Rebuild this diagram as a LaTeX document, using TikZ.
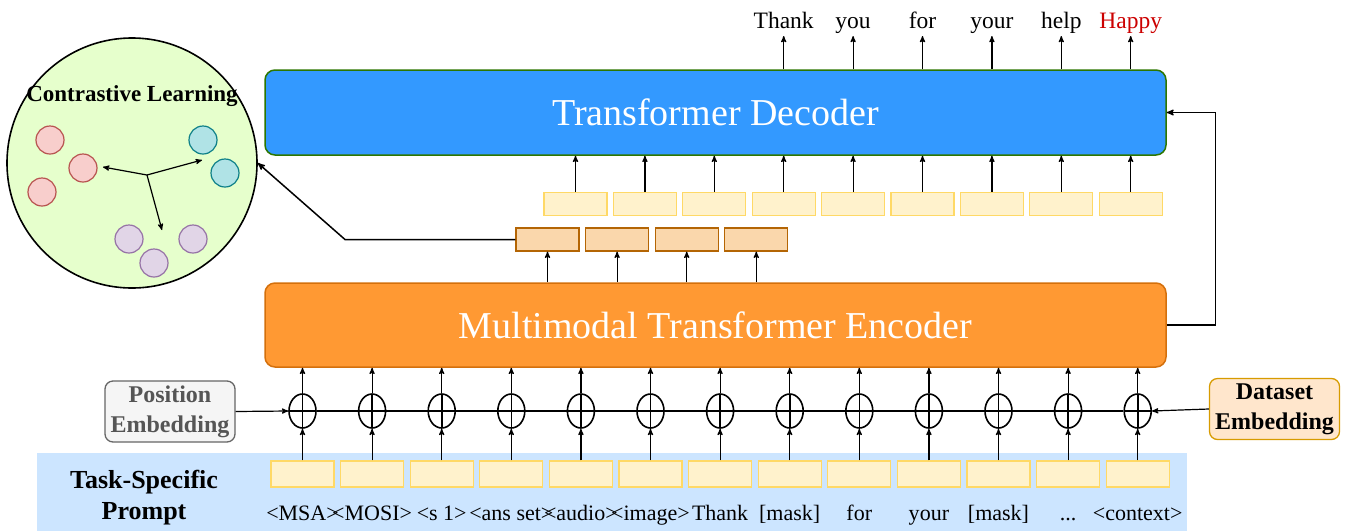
\documentclass[tikz,border=0pt]{standalone}
\usepackage{fontspec}
\setmainfont{Liberation Serif}
\usetikzlibrary{shapes.geometric}
\usetikzlibrary{shapes,arrows}
\definecolor{decfill}{HTML}{3399FF}
\definecolor{decline}{HTML}{2D7600}
\definecolor{encfill}{HTML}{FF9933}
\definecolor{encline}{HTML}{D4700C}
\definecolor{embfill}{HTML}{FFF2CC}
\definecolor{embline}{HTML}{FFD966}
\definecolor{outfill}{HTML}{FAD7AC}
\definecolor{outline}{HTML}{B46504}
\definecolor{clfill}{HTML}{E6FFCC}
\definecolor{bandfill}{HTML}{CCE5FF}
\definecolor{redfill}{HTML}{F8CECC}
\definecolor{redline}{HTML}{B85450}
\definecolor{tealfill}{HTML}{B0E3E6}
\definecolor{tealline}{HTML}{0E8088}
\definecolor{purpfill}{HTML}{E1D5E7}
\definecolor{purpline}{HTML}{9673A6}
\definecolor{posfill}{HTML}{F5F5F5}
\definecolor{posline}{HTML}{666666}
\definecolor{postext}{HTML}{555555}
\definecolor{datafill}{HTML}{FFE6CC}
\definecolor{dataline}{HTML}{D79B00}
\definecolor{happyred}{HTML}{CC0000}
\newcommand{\tokdots}{...}
\begin{document}
\begin{tikzpicture}[x=1pt,y=-1pt,>=stealth',line width=1.2pt,
  bigbox/.style={draw, rounded corners=10pt, line width=1.5pt, minimum width=901pt,
    minimum height=85pt, text=white, font=\fontsize{38}{44}\selectfont},
  emb/.style={draw=embline, fill=embfill, line width=1.3pt, minimum width=63pt,
    minimum height=23pt, inner sep=0pt},
  outemb/.style={draw=outline, fill=outfill, line width=1.3pt, minimum width=63pt,
    minimum height=23pt, inner sep=0pt},
  addop/.style={ellipse, draw, line width=1.6pt, minimum width=27pt, minimum height=34pt,
    inner sep=0pt, path picture={\draw[line width=1.6pt]
      (path picture bounding box.north) -- (path picture bounding box.south)
      (path picture bounding box.west) -- (path picture bounding box.east);}},
  ball/.style={circle, draw, line width=1.2pt, minimum size=28pt, inner sep=0pt},
  word/.style={anchor=base, font=\fontsize{23.5}{27}\selectfont},
  toktext/.style={anchor=base, font=\fontsize{22}{25}\selectfont},
  embbox/.style={draw, rounded corners=8pt, line width=1.3pt, minimum width=130pt,
    minimum height=61pt, align=center, inner sep=0pt, font=\bfseries\fontsize{24}{30}\selectfont}]
\useasboundingbox (0,0) rectangle (1346,531);

\fill[bandfill] (37,453) rectangle (1187,531);
\node[align=center, font=\bfseries\fontsize{26}{31}\selectfont] (prompt) at (144,498) {Task-Specific\\Prompt};

\node[bigbox, draw=decline, fill=decfill] (dec) at (715.5,112.5) {Transformer Decoder};
\node[bigbox, draw=encline, fill=encfill, minimum height=84pt] (enc) at (715.5,325) {Multimodal Transformer Encoder};

\node[embbox, draw=posline, fill=posfill, text=postext] (pos) at (170,411.5) {Position\\Embedding};
\node[embbox, draw=dataline, fill=datafill] (data) at (1274.5,409) {Dataset\\Embedding};

\foreach \i/\t in {1/{<MSA>},2/{<MOSI>},3/{<s 1>},4/{<ans set>},5/{<audio>},6/{<image>},
  7/Thank,8/{[mask]},9/for,10/your,11/{[mask]},12/\tokdots,13/{<context>}}{
  \node[emb, minimum height=26pt] (tok\i) at ({302.5+(\i-1)*69.6},474) {};
  \node[toktext] (lbl\i) at ({302.5+(\i-1)*69.6},520) {\t};
  \node[addop] (add\i) at ({302.5+(\i-1)*69.6},411) {};
  \draw[->] (tok\i.north) -- (add\i.south);
  \draw[->] (add\i.north) -- (add\i |- enc.south);
}
\draw (add1) -- (add13);
\draw[->] (pos.east) -- (add1.west);
\draw[->] (data.west) -- (add13.east);

\foreach \i in {1,...,4}{
  \node[outemb] (eo\i) at ({547.5+(\i-1)*69.6},239.5) {};
  \draw[->] (eo\i |- enc.north) -- (eo\i.south);
}

\foreach \i in {1,...,9}{
  \node[emb] (ey\i) at ({575.5+(\i-1)*69.4},204) {};
  \draw[->] (ey\i.north) -- (ey\i |- dec.south);
}

\foreach \i/\t in {4/Thank,5/you,6/for,7/your,8/help,9/\textcolor{happyred}{Happy}}{
  \node[word] (w\i) at ({575.5+(\i-1)*69.4},28) {\t};
  \draw[->] (w\i |- dec.north) -- ([yshift=-8pt]w\i.base);
}

\draw[->, line width=1.4pt] (enc.east) -- ++(49,0) |- (dec.east);

\node[circle, draw, fill=clfill, line width=1.6pt, minimum size=250pt, inner sep=0pt] (cl) at (132,163) {};
\node[font=\bfseries\fontsize{23}{26}\selectfont] (cltitle) at (132,96) {Contrastive Learning};
\node[ball, draw=redline, fill=redfill] (r1) at (50,140) {};
\node[ball, draw=redline, fill=redfill] (r2) at (83,168) {};
\node[ball, draw=redline, fill=redfill] (r3) at (42,192) {};
\node[ball, draw=tealline, fill=tealfill] (t1) at (203,140) {};
\node[ball, draw=tealline, fill=tealfill] (t2) at (225,173) {};
\node[ball, draw=purpline, fill=purpfill] (p1) at (129,239) {};
\node[ball, draw=purpline, fill=purpfill] (p2) at (193,239) {};
\node[ball, draw=purpline, fill=purpfill] (p3) at (154,263) {};
\coordinate (hub) at (147,175);
\coordinate (tored) at (103,167);
\coordinate (toteal) at (202,160);
\coordinate (topurp) at (162,230);
\draw[->] (hub) -- (tored);
\draw[->] (hub) -- (toteal);
\draw[->] (hub) -- (topurp);

\coordinate (bend) at (345,239.5);
\draw[->, line width=1.5pt] (eo1.west) -- (bend) -- (cl.east);
\end{tikzpicture}
\end{document}
